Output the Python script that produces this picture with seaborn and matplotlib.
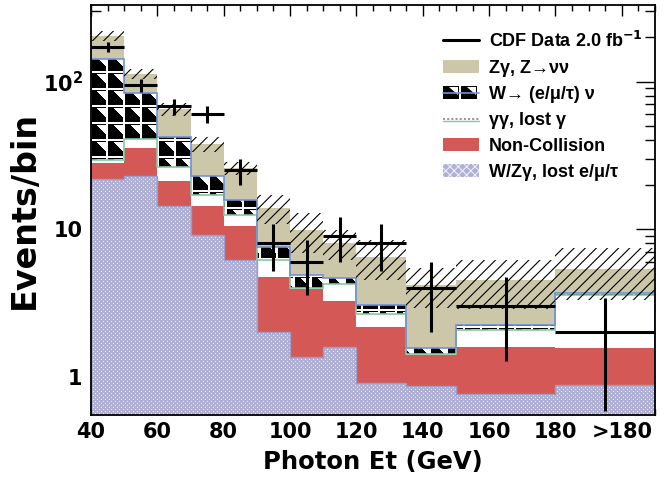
import numpy as np
import matplotlib
matplotlib.use("Agg")
import matplotlib.pyplot as plt
import seaborn as sns
from matplotlib.patches import Patch, Rectangle, Polygon
from matplotlib.lines import Line2D
from matplotlib.legend_handler import HandlerBase
from matplotlib.image import BboxImage
from matplotlib.ticker import FixedLocator, FixedFormatter, NullFormatter

# ---------------- data ----------------
bin_edges = [40, 50, 60, 70, 80, 90, 100, 110, 120, 135, 150, 180, 210]
wzg_lost = [21.8, 22.8, 14.3, 9.1, 6.2, 2.0, 1.36, 1.6, 0.91, 0.86, 0.76, 0.88]
non_collision = [6.1, 12.5, 6.8, 5.2, 4.3, 2.74, 2.54, 1.66, 1.27, 0.55, 0.84, 0.69]
gg_lost = [1.4, 5.2, 5.1, 2.7, 1.9, 1.46, 0.1, 0.99, 0.49, 0.02, 0.48, 2.01]
w_lnu = [112.7, 42.5, 15.7, 5.8, 3.3, 1.4, 0.9, 0.42, 0.40, 0.14, 0.17, 0.12]
zg_nunu = [63.0, 30.0, 22.8, 14.7, 10.1, 6.3, 4.95, 3.33, 3.4, 2.62, 2.27, 1.67]
syst_err = [16.0, 9.0, 6.3, 4.4, 2.7, 3.1, 2.95, 1.8, 1.93, 1.26, 1.66, 2.08]
data_counts = [172, 95, 68, 60, 25, 8, 6, 9, 8, 4, 3, 2]
x_tick_values = [40, 60, 80, 100, 120, 140, 160, 180, 200]
x_tick_labels = ["40", "60", "80", "100", "120", "140", "160", "180", ">180"]
y_tick_values = [1, 10, 100]
y_tick_labels = ["1", "10", "10$^2$"]

# ---------------- style ----------------
sns.set_theme(style="ticks")
plt.rcParams["font.family"] = ["Liberation Sans", "DejaVu Sans"]
plt.rcParams["font.weight"] = "bold"
plt.rcParams["text.color"] = "black"
plt.rcParams["axes.labelcolor"] = "black"
plt.rcParams["xtick.color"] = "black"
plt.rcParams["ytick.color"] = "black"
plt.rcParams["xtick.labelcolor"] = "black"
plt.rcParams["ytick.labelcolor"] = "black"
plt.rcParams["mathtext.fontset"] = "custom"
plt.rcParams["mathtext.rm"] = "DejaVu Sans:bold"
plt.rcParams["mathtext.bf"] = "DejaVu Sans:bold"
plt.rcParams["mathtext.it"] = "DejaVu Sans:bold:italic"
plt.rcParams["hatch.linewidth"] = 0.8

TAN = "#cdc7a9"
RED = "#d45855"
LAV = (176 / 255, 176 / 255, 214 / 255)
BLUE = "#6f92d8"
GREEN = "#84c9a4"

fig = plt.figure(figsize=(6.64, 4.80), dpi=100)
ax = fig.add_axes([91 / 664, 65 / 480, 564 / 664, 410 / 480])
ax.set_yscale("log")
ax.set_xlim(40, 210)
ax.set_ylim(0.55, 330)

edges = np.array(bin_edges, dtype=float)
comps = [np.array(c, dtype=float) for c in (wzg_lost, non_collision, gg_lost, w_lnu, zg_nunu)]
tops = np.cumsum(comps, axis=0)
floor = np.full(len(edges) - 1, 0.1)
bases = [floor] + [tops[i] for i in range(len(tops) - 1)]
total = tops[-1]

fills = [LAV, RED, "white", "white", TAN]
patches = []
for i in range(5):
    p = ax.stairs(tops[i], edges, baseline=bases[i], fill=True,
                  facecolor=fills[i], edgecolor="none", linewidth=0, zorder=1)
    patches.append(p)

# textures (pixel patterns clipped to the stacked areas)
H, W = 410, 564
yy, xx = np.mgrid[0:H, 0:W]
lav = np.ones((H, W, 3)) * np.array(LAV)
dots = ((yy % 4 == 0) & (xx % 4 == 0)) | ((yy % 4 == 2) & (xx % 4 == 2))
lav[dots] = np.array([0.93, 0.93, 0.97])
P = 17
ci, cj = yy % P, xx % P
black = (ci < 15) & (cj < 15)
white_tri = (cj >= 5) & (ci <= 10) & (ci >= 1) & ((cj - 5) > (ci - 1))
black = black & ~white_tri
wpat = np.ones((H, W, 3))
wpat[black] = 0.0

for arr, patch, z in ((lav, patches[0], 1.2), (wpat, patches[3], 1.2)):
    im = BboxImage(ax.bbox, interpolation="nearest")
    im.set_data(arr)
    im.set_clip_path(patch)
    im.set_zorder(z)
    ax.add_artist(im)

# outlines
ax.stairs(tops[0], edges, color="#9c9cc8", linewidth=1.0, zorder=2)
ax.stairs(tops[2], edges, color=GREEN, linewidth=1.2, zorder=2.1)
ax.stairs(tops[3], edges, color=BLUE, linewidth=1.2, zorder=2.2)

# uncertainty band
err = np.array(syst_err)
ax.stairs(total + err, edges, baseline=total - err, fill=True, facecolor="none",
          edgecolor="black", hatch="///", linewidth=0, zorder=3)

# data
centers = 0.5 * (edges[1:] + edges[:-1])
halfw = 0.5 * np.diff(edges)
dc = np.array(data_counts, dtype=float)
ax.errorbar(centers, dc, xerr=halfw, yerr=np.sqrt(dc), fmt="none",
            ecolor="black", elinewidth=2.2, capsize=0, zorder=4)

# axes cosmetics
ax.xaxis.set_major_locator(FixedLocator(x_tick_values))
ax.xaxis.set_major_formatter(FixedFormatter(x_tick_labels))
ax.xaxis.set_minor_locator(FixedLocator(np.arange(40, 211, 5)))
ax.yaxis.set_major_locator(FixedLocator(y_tick_values))
ax.yaxis.set_major_formatter(FixedFormatter(y_tick_labels))
minors = [m * 10 ** d for d in (-1, 0, 1, 2) for m in range(2, 10)]
ax.yaxis.set_minor_locator(FixedLocator(minors))
ax.yaxis.set_minor_formatter(NullFormatter())
ax.tick_params(axis="both", which="both", direction="in", top=True, right=True,
               color="black", labelcolor="black", width=1.0)
ax.tick_params(axis="x", which="major", length=8, pad=5)
ax.tick_params(axis="x", which="minor", length=4.5)
ax.tick_params(axis="y", which="major", length=14, pad=6)
ax.tick_params(axis="y", which="minor", length=7)
for lab in ax.get_xticklabels() + ax.get_yticklabels():
    lab.set_fontfamily("DejaVu Sans")
    lab.set_fontweight("bold")
    lab.set_fontsize(15)
for s in ax.spines.values():
    s.set_color("black")
    s.set_linewidth(1.3)
ax.set_xlabel("Photon Et (GeV)", fontsize=17.5, fontweight="bold", family="DejaVu Sans",
              color="black", labelpad=6)
ax.set_ylabel("Events/bin", fontsize=24, fontweight="bold", family="DejaVu Sans",
              color="black", labelpad=1)


# legend
class HandlerW(HandlerBase):
    def create_artists(self, legend, orig_handle, xdescent, ydescent, width, height, fontsize, trans):
        x0, y0 = -xdescent, -ydescent
        arts = [Rectangle((x0, y0), width, height, facecolor="white", edgecolor="none", transform=trans)]
        cw = width / 2.0
        for k in range(2):
            cx = x0 + k * cw
            arts.append(Rectangle((cx, y0), cw * 0.88, height, facecolor="black", edgecolor="none", transform=trans))
            arts.append(Polygon([[cx + cw * 0.3, y0 + height * 0.9], [cx + cw * 0.8, y0 + height * 0.9],
                                 [cx + cw * 0.8, y0 + height * 0.3]], closed=True,
                                facecolor="white", edgecolor="none", transform=trans))
        arts.append(Line2D([x0, x0 + width], [y0 + height / 2] * 2, color=BLUE, lw=1.2, transform=trans))
        return arts


class HandlerGG(HandlerBase):
    def create_artists(self, legend, orig_handle, xdescent, ydescent, width, height, fontsize, trans):
        x0, y0 = -xdescent, -ydescent
        return [Line2D([x0, x0 + width], [y0 + height * 0.45] * 2, color="#999999", lw=1.5,
                       ls=(0, (1, 1)), transform=trans),
                Line2D([x0, x0 + width], [y0 + height * 0.3] * 2, color=GREEN, lw=1.0, transform=trans)]


h_data = Line2D([], [], color="black", lw=2.2)
h_zg = Patch(facecolor=TAN, edgecolor="none")
h_w = Patch(facecolor="white")
h_gg = Patch(facecolor="white")
h_nc = Patch(facecolor=RED, edgecolor="none")
h_lav = Patch(facecolor=LAV, edgecolor="#ececf6", hatch="xxxx", linewidth=0)
leg = ax.legend([h_data, h_zg, h_w, h_gg, h_nc, h_lav],
                ["CDF Data 2.0 fb$^{-1}$", "Z\u03b3, Z\u2192\u03bd\u03bd", "W\u2192 (e/\u03bc/\u03c4) \u03bd",
                 "\u03b3\u03b3, lost \u03b3", "Non-Collision", "W/Z\u03b3, lost e/\u03bc/\u03c4"],
                handler_map={h_w: HandlerW(), h_gg: HandlerGG()},
                loc="upper right", bbox_to_anchor=(0.99, 0.955), frameon=False,
                prop={"size": 13, "weight": "bold"}, handlelength=2.0, handleheight=0.75,
                handletextpad=0.5, labelspacing=0.5, borderaxespad=0.0, labelcolor="black")

fig.savefig("out.png", dpi=100)
